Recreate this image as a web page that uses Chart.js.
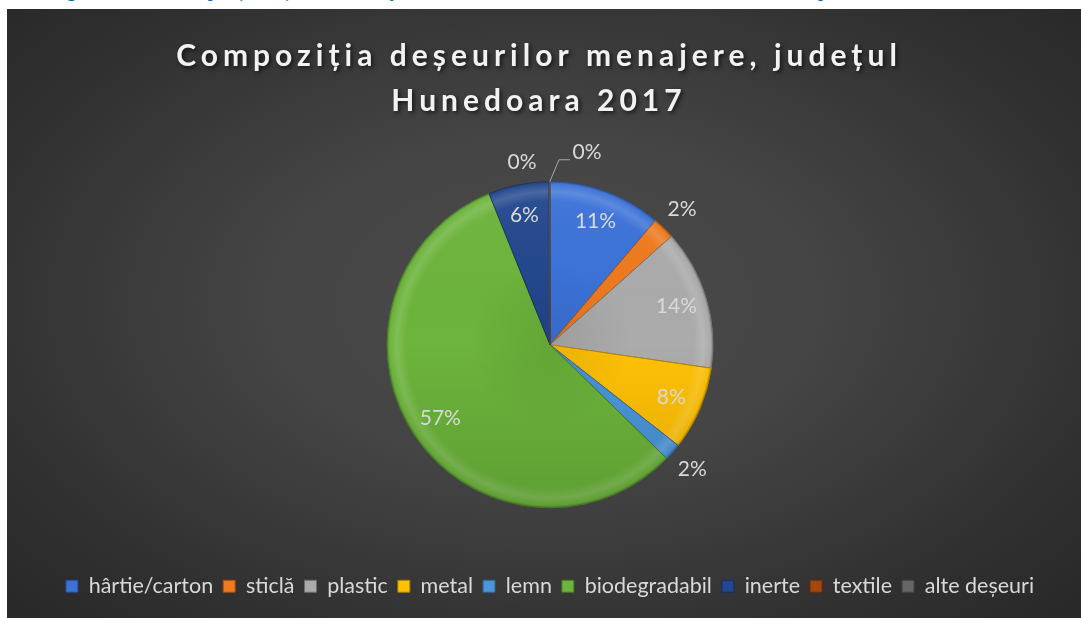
<!DOCTYPE html>
<html>
<head>
<meta charset="utf-8">
<script src="https://cdn.jsdelivr.net/npm/chart.js@4/dist/chart.umd.min.js"></script>
<style>
html,body{margin:0;padding:0;background:#fff;width:1081px;height:618px;overflow:hidden;}
#cap{position:absolute;left:0;top:0;width:1081px;height:9px;overflow:hidden;}
#cap span{position:absolute;top:-18px;left:52px;white-space:nowrap;font:bold 17px "Liberation Serif";color:#0070C0;word-spacing:6px;}
#wrap{position:absolute;left:7px;top:9px;width:1074px;height:609px;
  background:radial-gradient(ellipse 75% 80% at 50% 48%, #4b4b4b 0%, #444 35%, #2f2f2f 75%, #262626 100%);}
</style>
</head>
<body>
<div id="cap"><span>Figura nr. 2.1 Compoziția deșeurilor menajere colectate în anul 2017 – APM Hunedoara, date preliminare / 2017</span></div>
<div id="wrap"><canvas id="c"></canvas></div>
<script>
const titleLines = ['Compoziția deșeurilor menajere, județul', 'Hunedoara 2017'];
const categories = ['hârtie/carton', 'sticlă', 'plastic', 'metal', 'lemn', 'biodegradabil', 'inerte', 'textile', 'alte deșeuri'];
const shares = [11.2, 2.2, 13.9, 8.3, 1.7, 56.6, 6.0, 0.05, 0.05];
const colors = ['#3B72D8', '#F07A1E', '#ABABAB', '#FFC105', '#4A96DA', '#6CB43B', '#23478E', '#A4470F', '#666666'];

function mix(hex, amt) {
  const n = parseInt(hex.slice(1), 16);
  let r = (n >> 16) & 255, g = (n >> 8) & 255, b = n & 255;
  const t = amt > 0 ? 255 : 0, a = Math.abs(amt);
  r = Math.round(r + (t - r) * a); g = Math.round(g + (t - g) * a); b = Math.round(b + (t - b) * a);
  return `rgb(${r},${g},${b})`;
}

const PIE_R = 163;

function bevelFill(c) {
  const base = colors[c.dataIndex];
  const chart = c.chart, ca = chart.chartArea;
  if (!ca) return base;
  const cx = (ca.left + ca.right) / 2, cy = (ca.top + ca.bottom) / 2;
  const g = chart.ctx.createRadialGradient(cx, cy, 0, cx, cy, PIE_R);
  g.addColorStop(0, mix(base, -0.08));
  g.addColorStop(0.5, base);
  g.addColorStop(0.88, base);
  g.addColorStop(0.94, mix(base, 0.14));
  g.addColorStop(0.985, base);
  g.addColorStop(1, mix(base, -0.25));
  return g;
}

// Title drawn with letter spacing + soft shadow, only for the title block
const titleStyle = {
  id: 'titleStyle',
  afterUpdate(chart) {
    const tb = chart.titleBlock;
    if (!tb || tb._styled) return;
    const orig = tb.draw;
    tb.draw = function () {
      const ctx = chart.ctx;
      ctx.save();
      ctx.translate(-11, 0);
      ctx.letterSpacing = '5px';
      ctx.shadowColor = 'rgba(0,0,0,0.65)';
      ctx.shadowBlur = 4;
      ctx.shadowOffsetX = 2;
      ctx.shadowOffsetY = 2;
      orig.apply(this, arguments);
      ctx.restore();
    };
    tb._styled = true;
  }
};

const pctLabels = {
  id: 'pctLabels',
  afterDatasetsDraw(chart, args, opts) {
    const ctx = chart.ctx;
    const meta = chart.getDatasetMeta(0);
    const data = chart.data.datasets[0].data;
    const total = data.reduce((a, b) => a + b, 0);
    // soft top-light / bottom-shade overlay for a 3D feel
    const a0 = meta.data[0];
    if (a0) {
      const c = a0.getProps(['x', 'y', 'outerRadius'], true);
      const lg = ctx.createLinearGradient(c.x, c.y - c.outerRadius, c.x, c.y + c.outerRadius);
      lg.addColorStop(0, 'rgba(255,255,255,0.05)');
      lg.addColorStop(0.5, 'rgba(0,0,0,0)');
      lg.addColorStop(1, 'rgba(0,0,0,0.12)');
      ctx.save();
      ctx.beginPath();
      ctx.arc(c.x, c.y, c.outerRadius, 0, Math.PI * 2);
      ctx.fillStyle = lg;
      ctx.fill();
      ctx.restore();
    }
    ctx.save();
    ctx.font = '21px Lato';
    ctx.fillStyle = '#d9d9d9';
    ctx.textAlign = 'center';
    ctx.textBaseline = 'middle';
    meta.data.forEach((arc, i) => {
      const p = arc.getProps(['x', 'y', 'startAngle', 'endAngle', 'outerRadius'], true);
      const pct = data[i] / total * 100;
      const txt = Math.round(pct) + '%';
      const mid = (p.startAngle + p.endAngle) / 2;
      const nudge = opts.nudges[i];
      let x, y;
      if (nudge) {
        x = p.x + nudge.dx; y = p.y + nudge.dy;
        if (nudge.leader) {
          const sx = p.x + Math.cos(mid) * p.outerRadius, sy = p.y + Math.sin(mid) * p.outerRadius;
          ctx.save();
          ctx.strokeStyle = '#a6a6a6';
          ctx.lineWidth = 1;
          ctx.beginPath();
          ctx.moveTo(sx, sy);
          ctx.lineTo(p.x + nudge.leader[0], p.y + nudge.leader[1]);
          ctx.lineTo(p.x + nudge.leader[2], p.y + nudge.leader[1]);
          ctx.stroke();
          ctx.restore();
        }
      } else {
        const r = pct >= 5 ? 0.81 * p.outerRadius : 1.16 * p.outerRadius;
        x = p.x + Math.cos(mid) * r; y = p.y + Math.sin(mid) * r;
      }
      ctx.fillText(txt, x, y);
    });
    ctx.restore();
  }
};

new Chart(document.getElementById('c'), {
  type: 'pie',
  data: {
    labels: categories,
    datasets: [{
      data: shares,
      backgroundColor: bevelFill,
      borderColor: (c) => mix(colors[c.dataIndex], -0.3),
      borderWidth: 1,
      radius: PIE_R
    }]
  },
  options: {
    responsive: true,
    maintainAspectRatio: false,
    animation: false,
    layout: { padding: { left: 12, right: 0, top: 0, bottom: 11 } },
    plugins: {
      tooltip: { enabled: false },
      title: {
        display: true,
        text: titleLines,
        color: '#F2F2F2',
        font: { family: 'Lato', size: 30, weight: 'bold', lineHeight: 1.5 },
        padding: { top: 25, bottom: 0 }
      },
      legend: {
        position: 'bottom',
        labels: {
          font: { family: 'Lato', size: 21.5 },
          color: '#d9d9d9',
          boxWidth: 12,
          boxHeight: 12,
          padding: 10,
          generateLabels: (chart) => chart.data.labels.map((l, i) => ({
            text: l,
            fillStyle: colors[i],
            strokeStyle: mix(colors[i], -0.35),
            lineWidth: 1,
            fontColor: '#d9d9d9',
            hidden: false,
            index: i
          }))
        }
      },
      pctLabels: {
        nudges: {
          7: { dx: -28, dy: -183 },
          8: { dx: 37, dy: -193, leader: [9, -185, 20] }
        }
      }
    }
  },
  plugins: [titleStyle, pctLabels]
});
</script>
</body>
</html>
